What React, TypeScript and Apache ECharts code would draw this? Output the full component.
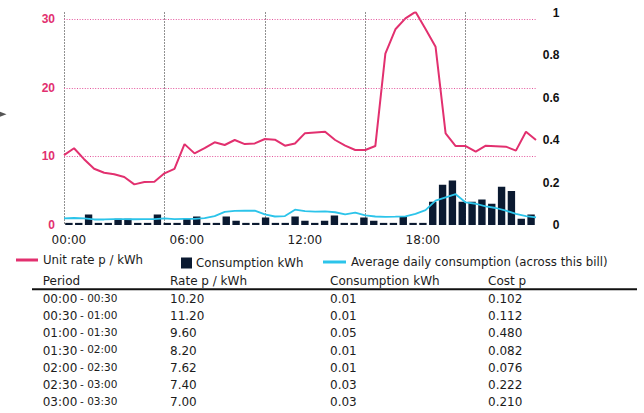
import React, { useEffect, useRef } from 'react';
import * as echarts from 'echarts';

const categories = [
  '00:00', '00:30', '01:00', '01:30', '02:00', '02:30', '03:00', '03:30',
  '04:00', '04:30', '05:00', '05:30', '06:00', '06:30', '07:00', '07:30',
  '08:00', '08:30', '09:00', '09:30', '10:00', '10:30', '11:00', '11:30',
  '12:00', '12:30', '13:00', '13:30', '14:00', '14:30', '15:00', '15:30',
  '16:00', '16:30', '17:00', '17:30', '18:00', '18:30', '19:00', '19:30',
  '20:00', '20:30', '21:00', '21:30', '22:00', '22:30', '23:00', '23:30',
];

// Unit rate p / kWh (left axis)
const unitRate = [
  10.2, 11.2, 9.6, 8.2, 7.62, 7.4, 7.0, 5.93, 6.27, 6.32, 7.54, 8.2,
  11.8, 10.45, 11.2, 12.06, 11.67, 12.4, 11.8, 11.9, 12.55, 12.45, 11.57, 11.9,
  13.4, 13.5, 13.6, 12.4, 11.57, 10.94, 10.94, 11.52, 25.0, 28.55, 30.15, 31.1,
  28.6, 26.0, 13.37, 11.52, 11.52, 10.7, 11.57, 11.5, 11.43, 10.85, 13.6, 12.4,
];

// Consumption kWh (right axis)
const consumption = [
  0.01, 0.01, 0.05, 0.01, 0.01, 0.03, 0.03, 0.01, 0.01, 0.05, 0.01, 0.01,
  0.03, 0.04, 0.01, 0.01, 0.04, 0.02, 0.01, 0.01, 0.035, 0.01, 0.01, 0.04,
  0.02, 0.01, 0.02, 0.045, 0.01, 0.01, 0.035, 0.02, 0.01, 0.01, 0.04, 0.01,
  0.01, 0.11, 0.19, 0.21, 0.11, 0.11, 0.12, 0.10, 0.18, 0.16, 0.03, 0.05,
];

// Average daily consumption (right axis)
const avgDaily = [
  0.031, 0.033, 0.031, 0.026, 0.026, 0.028, 0.028, 0.027, 0.028, 0.028, 0.031, 0.028,
  0.029, 0.029, 0.032, 0.042, 0.062, 0.066, 0.067, 0.068, 0.05, 0.04, 0.042, 0.072,
  0.065, 0.063, 0.064, 0.06, 0.05, 0.058, 0.045, 0.04, 0.038, 0.039, 0.041, 0.052,
  0.07, 0.115, 0.13, 0.145, 0.106, 0.1, 0.088, 0.08, 0.068, 0.052, 0.042, 0.036,
];

const rateGridLines = [10, 20, 30];
const seriesNames = ['Unit rate p / kWh', 'Consumption kWh', 'Average daily consumption (across this bill)'];
const tableHeaders = ['Period', 'Rate p / kWh', 'Consumption kWh', 'Cost p'];
const tableRowCount = 7;

const PINK = '#e2306f';
const NAVY = '#0b1a31';
const CYAN = '#2cc4ea';
const TEXT = '#1c1c1c';
const FONT = '"DejaVu Sans", sans-serif';

export default function App() {
  const ref = useRef<HTMLDivElement>(null);

  useEffect(() => {
    if (!ref.current) return;
    const chart = echarts.init(ref.current, undefined, { renderer: 'svg' });

    const colX = [42.7, 170, 330, 488];
    const headerY = 281;
    const rowY0 = 299;
    const rowStep = 17.2;
    const elements: any[] = [];

    tableHeaders.forEach((h, c) => {
      elements.push({
        type: 'text', x: colX[c], y: headerY,
        style: { text: h, fill: TEXT, fontSize: 12, fontFamily: FONT, align: 'left', verticalAlign: 'middle' },
      });
    });
    elements.push({
      type: 'line',
      shape: { x1: 32, y1: 289.2, x2: 637, y2: 289.2 },
      style: { stroke: '#111', lineWidth: 2 },
    });
    for (let i = 0; i < tableRowCount; i++) {
      const y = rowY0 + i * rowStep;
      const rate = unitRate[i];
      const cons = consumption[i];
      elements.push({
        type: 'text', x: colX[0], y,
        style: { text: categories[i], fill: TEXT, fontSize: 12, fontFamily: FONT, verticalAlign: 'middle' },
      });
      elements.push({
        type: 'text', x: 80, y: y - 1.3,
        style: { text: '- ' + categories[i + 1], fill: TEXT, fontSize: 10.5, fontFamily: FONT, verticalAlign: 'middle' },
      });
      elements.push({
        type: 'text', x: colX[1], y,
        style: { text: rate.toFixed(2), fill: TEXT, fontSize: 12, fontFamily: FONT, verticalAlign: 'middle' },
      });
      elements.push({
        type: 'text', x: colX[2], y,
        style: { text: cons.toFixed(2), fill: TEXT, fontSize: 12, fontFamily: FONT, verticalAlign: 'middle' },
      });
      elements.push({
        type: 'text', x: colX[3], y,
        style: { text: (rate * cons).toFixed(3), fill: TEXT, fontSize: 12, fontFamily: FONT, verticalAlign: 'middle' },
      });
    }
    // small arrow at left edge
    elements.push({
      type: 'polygon',
      shape: { points: [[0, 111.8], [6.5, 114.3], [0, 116.8]] },
      style: { fill: '#555' },
    });

    const legendText = { color: TEXT, fontSize: 11.75, fontFamily: FONT };

    chart.setOption({
      animation: false,
      backgroundColor: '#ffffff',
      grid: { left: 64, right: 108, top: 12.5, bottom: 188, containLabel: false },
      legend: [
        { data: [seriesNames[0]], left: 16, top: 254, padding: 0, icon: 'rect', itemWidth: 22, itemHeight: 3, textStyle: legendText, selectedMode: false },
        { data: [seriesNames[1]], left: 181, top: 257, padding: 0, icon: 'rect', itemWidth: 9, itemHeight: 9, textStyle: legendText, selectedMode: false },
        { data: [seriesNames[2]], left: 323, top: 256, padding: 0, icon: 'rect', itemWidth: 23, itemHeight: 3, textStyle: legendText, selectedMode: false },
      ],
      xAxis: [
        {
          type: 'category',
          data: categories,
          boundaryGap: true,
          position: 'bottom',
          axisLine: { show: false },
          axisTick: { show: false },
          splitLine: { show: false },
          axisLabel: { interval: 11, color: TEXT, fontSize: 12, fontFamily: FONT, margin: 9 },
        },
        {
          type: 'category',
          data: categories,
          boundaryGap: false,
          position: 'top',
          axisLine: { show: false },
          axisTick: { show: false, interval: 9 },
          axisLabel: { show: false, interval: 9 },
          splitLine: { show: true, interval: 9, lineStyle: { color: '#222', type: [1, 2], width: 1 } },
        },
      ],
      yAxis: [
        {
          type: 'value',
          position: 'left',
          min: 0,
          max: 31,
          interval: 10,
          axisLine: { show: false },
          axisTick: { show: false },
          splitLine: { show: false },
          axisLabel: {
            color: PINK, fontWeight: 'bold', fontSize: 12, fontFamily: '"Liberation Sans", Arial, sans-serif', margin: 9,
            formatter: (v: number) => (v % 10 === 0 ? String(v) : ''),
          },
        },
        {
          type: 'value',
          position: 'right',
          min: 0,
          max: 1,
          interval: 0.2,
          axisLine: { show: false },
          axisTick: { show: false },
          splitLine: { show: false },
          axisLabel: {
            color: '#111', fontWeight: 'bold', fontSize: 12, fontFamily: '"Liberation Sans", Arial, sans-serif',
            margin: 23.5, align: 'right',
          },
        },
      ],
      series: [
        {
          name: seriesNames[1],
          type: 'bar',
          xAxisIndex: 0,
          yAxisIndex: 1,
          data: consumption,
          barCategoryGap: '25%',
          itemStyle: { color: NAVY, borderColor: NAVY, borderWidth: 1.5 },
          z: 1,
        },
        {
          name: seriesNames[2],
          type: 'line',
          xAxisIndex: 1,
          yAxisIndex: 1,
          data: avgDaily,
          symbol: 'none',
          lineStyle: { color: CYAN, width: 1.8 },
          itemStyle: { color: CYAN },
          z: 3,
        },
        {
          name: seriesNames[0],
          type: 'line',
          xAxisIndex: 1,
          yAxisIndex: 0,
          data: unitRate,
          symbol: 'none',
          lineStyle: { color: PINK, width: 2 },
          itemStyle: { color: PINK },
          z: 4,
          markLine: {
            silent: true,
            symbol: 'none',
            label: { show: false },
            lineStyle: { color: '#e4559c', type: [1, 1.6], width: 1 },
            data: rateGridLines.map((v) => ({ yAxis: v })),
          },
        },
      ],
      graphic: { elements },
    });

    return () => chart.dispose();
  }, []);

  return (
    <div
      ref={ref}
      style={{ position: 'fixed', left: 0, top: 0, width: 644, height: 413, background: '#fff' }}
    />
  );
}
